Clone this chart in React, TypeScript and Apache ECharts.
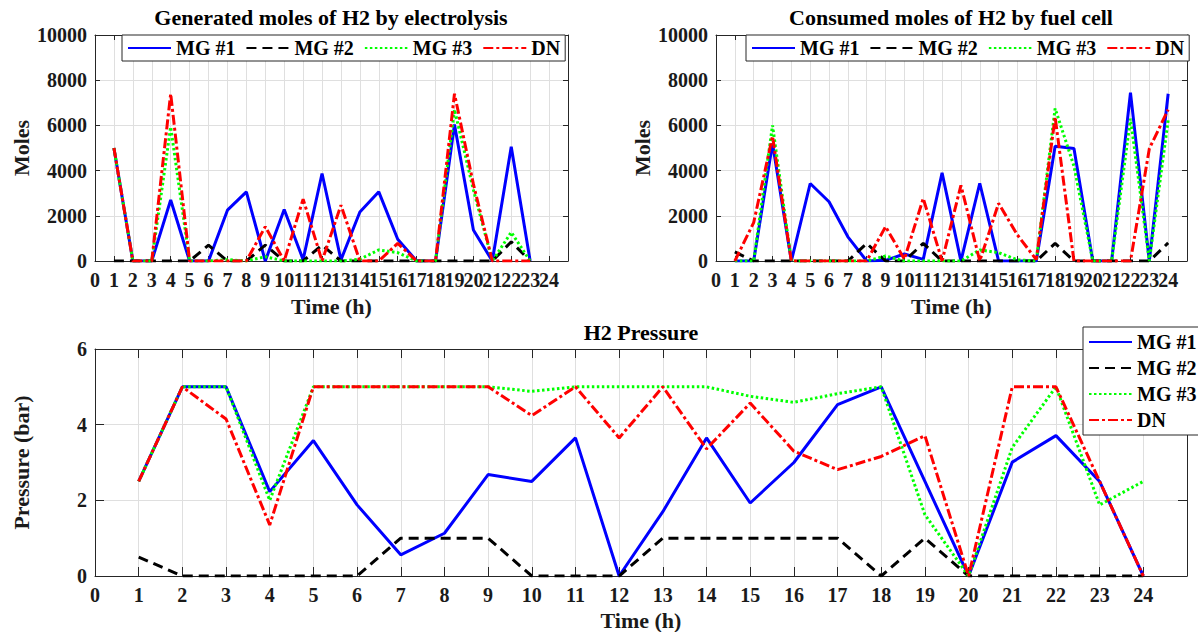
import React, { useEffect, useRef } from "react";
import * as echarts from "echarts";

// ---------- data ----------
const hoursGen = [1, 2, 3, 4, 5, 6, 7, 8, 9, 10, 11, 12, 13, 14, 15, 16, 17, 18, 19, 20, 21, 22, 23];
const hours = [1, 2, 3, 4, 5, 6, 7, 8, 9, 10, 11, 12, 13, 14, 15, 16, 17, 18, 19, 20, 21, 22, 23, 24];

// Generated moles of H2 by electrolysis (h = 1..23)
const genMG1 = [5000, 0, 0, 2700, 0, 0, 2250, 3060, 0, 2280, 60, 3870, 50, 2170, 3060, 960, 0, 0, 6040, 1370, 0, 5050, 0];
const genMG2 = [0, 0, 0, 0, 0, 700, 0, 0, 700, 0, 0, 700, 0, 0, 0, 0, 0, 0, 0, 0, 0, 850, 0];
const genMG3 = [5000, 0, 0, 5930, 0, 0, 60, 0, 190, 0, 0, 0, 0, 80, 490, 370, 0, 0, 6700, 3150, 0, 1270, 0];
const genDN = [5000, 0, 0, 7400, 0, 0, 0, 0, 1520, 0, 2740, 0, 2470, 0, 0, 780, 0, 0, 7400, 3400, 0, 0, 0];

// Consumed moles of H2 by fuel cell (h = 1..24)
const conMG1 = [0, 0, 5200, 0, 3430, 2620, 1070, 0, 30, 310, 70, 3900, 0, 3440, 0, 0, 0, 5080, 4980, 0, 0, 7450, 0, 7400];
const conMG2 = [400, 0, 0, 0, 0, 0, 0, 780, 0, 0, 780, 0, 0, 0, 0, 0, 0, 780, 0, 0, 0, 0, 0, 800];
const conMG3 = [0, 0, 6000, 0, 0, 0, 0, 0, 220, 0, 0, 0, 0, 490, 370, 50, 0, 6750, 4200, 0, 0, 6300, 0, 6230];
const conDN = [0, 1700, 5520, 0, 0, 0, 0, 0, 1520, 80, 2770, 0, 3350, 0, 2550, 1150, 60, 6370, 0, 0, 0, 0, 4970, 6700];

// H2 Pressure (bar) (h = 1..24)
const pMG1 = [2.5, 5, 5, 2.23, 3.58, 1.88, 0.56, 1.13, 2.68, 2.5, 3.65, 0, 1.7, 3.65, 1.93, 3.0, 4.53, 5.0, 2.5, 0, 3.01, 3.71, 2.5, 0];
const pMG2 = [0.5, 0, 0, 0, 0, 0, 1, 1, 1, 0, 0, 0, 1, 1, 1, 1, 1, 0, 1, 0, 0, 0, 0, 0];
const pMG3 = [2.5, 5, 5, 2.0, 5, 5, 5, 5, 5, 4.88, 5, 5, 5, 5, 4.75, 4.59, 4.82, 5, 1.62, 0, 3.4, 5, 1.88, 2.5];
const pDN = [2.5, 5, 4.15, 1.35, 5, 5, 5, 5, 5, 4.24, 5, 3.65, 5, 3.36, 4.57, 3.3, 2.81, 3.16, 3.71, 0, 5, 5, 2.5, 0];

const seriesNames = ["MG #1", "MG #2", "MG #3", "DN"];
const titles = ["Generated moles of H2 by electrolysis", "Consumed moles of H2 by fuel cell", "H2 Pressure"];

// ---------- styles ----------
const FONT = "Liberation Serif";
const AXIS_COLOR = "#262626";
const GRID_COLOR = "#dfdfdf";

const lineStyles: any[] = [
  { color: "#0000ff", width: 3, type: "solid" },
  { color: "#000000", width: 3, type: [10, 6] },
  { color: "#00ff00", width: 3, type: [2.5, 2.5] },
  { color: "#ff0000", width: 3, type: [10, 3, 3, 3] },
];

function pairs(xs: number[], ys: number[]) {
  return ys.map((v, i) => [xs[i], v]);
}

export default function App() {
  const ref = useRef<HTMLDivElement>(null);

  useEffect(() => {
    if (!ref.current) return;
    const chart = echarts.init(ref.current, undefined, { renderer: "svg" });

    const grids = [
      { left: 95, top: 35, width: 473, height: 226 },
      { left: 716, top: 35, width: 471, height: 226 },
      { left: 95, top: 349, width: 1092, height: 227 },
    ];

    const labelStyle = { fontFamily: FONT, fontWeight: "bold", fontSize: 20, color: "#1a1a1a" };
    const nameStyle = { fontFamily: FONT, fontWeight: "bold", fontSize: 22, color: "#1a1a1a" };

    const mkX = (gridIndex: number, tickLen: number) => ({
      type: "value",
      gridIndex,
      min: 0,
      max: 25,
      interval: 1,
      name: "Time (h)",
      nameLocation: "middle",
      nameGap: gridIndex === 2 ? 33 : 34,
      nameTextStyle: nameStyle,
      axisLine: { show: true, onZero: false, lineStyle: { color: AXIS_COLOR, width: 1 } },
      axisTick: { show: true, inside: true, length: tickLen, lineStyle: { color: AXIS_COLOR } },
      axisLabel: {
        ...labelStyle,
        margin: 9,
        showMaxLabel: false,
        formatter: (v: number) => (v === 25 ? "" : String(v)),
      },
      splitLine: { show: true, lineStyle: { color: GRID_COLOR, width: 1 } },
    });
    const mkXTop = (gridIndex: number, tickLen: number) => ({
      type: "value",
      gridIndex,
      position: "top",
      min: 0,
      max: 25,
      interval: 1,
      axisLine: { show: true, onZero: false, lineStyle: { color: AXIS_COLOR, width: 1 } },
      axisTick: { show: true, inside: true, length: tickLen, lineStyle: { color: AXIS_COLOR } },
      axisLabel: { show: false },
      splitLine: { show: false },
    });
    const mkY = (gridIndex: number, max: number, interval: number, name: string, tickLen: number) => ({
      type: "value",
      gridIndex,
      min: 0,
      max,
      interval,
      name,
      nameLocation: "middle",
      nameGap: 63,
      nameTextStyle: nameStyle,
      axisLine: { show: true, onZero: false, lineStyle: { color: AXIS_COLOR, width: 1 } },
      axisTick: { show: true, inside: true, length: tickLen, lineStyle: { color: AXIS_COLOR } },
      axisLabel: { ...labelStyle, margin: 8, formatter: (v: number) => String(v) },
      splitLine: { show: true, lineStyle: { color: GRID_COLOR, width: 1 } },
    });
    const mkYRight = (gridIndex: number, max: number, interval: number, tickLen: number) => ({
      type: "value",
      gridIndex,
      position: "right",
      min: 0,
      max,
      interval,
      axisLine: { show: true, onZero: false, lineStyle: { color: AXIS_COLOR, width: 1 } },
      axisTick: { show: true, inside: true, length: tickLen, lineStyle: { color: AXIS_COLOR } },
      axisLabel: { show: false },
      splitLine: { show: false },
    });

    const mkSeries = (name: string, idx: number, axisIdx: number, data: number[][]) => ({
      type: "line",
      name,
      xAxisIndex: axisIdx,
      yAxisIndex: axisIdx,
      data,
      symbol: "none",
      showSymbol: false,
      lineStyle: lineStyles[idx],
      itemStyle: { color: lineStyles[idx].color },
      emphasis: { disabled: true },
    });

    const genSets = [genMG1, genMG2, genMG3, genDN];
    const conSets = [conMG1, conMG2, conMG3, conDN];
    const pSets = [pMG1, pMG2, pMG3, pDN];

    const series: any[] = [];
    seriesNames.forEach((n, i) => series.push(mkSeries(n, i, 0, pairs(hoursGen, genSets[i]))));
    seriesNames.forEach((n, i) => series.push(mkSeries(n, i, 1, pairs(hours, conSets[i]))));
    seriesNames.forEach((n, i) => series.push(mkSeries(n, i, 2, pairs(hours, pSets[i]))));

    const legendText = { fontFamily: FONT, fontWeight: "bold", fontSize: 20, color: "#000" };
    const legendCommon = {
      data: seriesNames,
      itemWidth: 43,
      itemHeight: 14,
      textStyle: legendText,
      itemStyle: { opacity: 0, borderWidth: 0 },
      borderColor: "#262626",
      borderWidth: 1,
      backgroundColor: "#ffffff",
      selectedMode: false,
    };

    const titleStyle = { fontFamily: FONT, fontWeight: "bold", fontSize: 22, color: "#000" };

    chart.setOption({
      animation: false,
      backgroundColor: "#ffffff",
      title: [
        { text: titles[0], left: 331, top: 6, textAlign: "center", textStyle: titleStyle, padding: 0 },
        { text: titles[1], left: 951, top: 6, textAlign: "center", textStyle: titleStyle, padding: 0 },
        { text: titles[2], left: 641, top: 321, textAlign: "center", textStyle: titleStyle, padding: 0 },
      ],
      legend: [
        { ...legendCommon, orient: "horizontal", left: 122, top: 35, padding: [3, 5], itemGap: 10 },
        { ...legendCommon, orient: "horizontal", left: 746, top: 35, padding: [3, 5], itemGap: 10 },
        { ...legendCommon, orient: "vertical", left: 1083, top: 327, padding: [5, 5], itemGap: 6 },
      ],
      grid: grids,
      xAxis: [mkX(0, 5), mkX(1, 5), mkX(2, 9), mkXTop(0, 5), mkXTop(1, 5), mkXTop(2, 9)],
      yAxis: [
        mkY(0, 10000, 2000, "Moles", 5),
        mkY(1, 10000, 2000, "Moles", 5),
        mkY(2, 6, 2, "Pressure (bar)", 9),
        mkYRight(0, 10000, 2000, 5),
        mkYRight(1, 10000, 2000, 5),
        mkYRight(2, 6, 2, 9),
      ],
      series,
    });

    return () => {
      chart.dispose();
    };
  }, []);

  return (
    <div
      ref={ref}
      style={{ position: "absolute", left: 0, top: 0, width: 1198, height: 632, background: "#fff" }}
    />
  );
}
